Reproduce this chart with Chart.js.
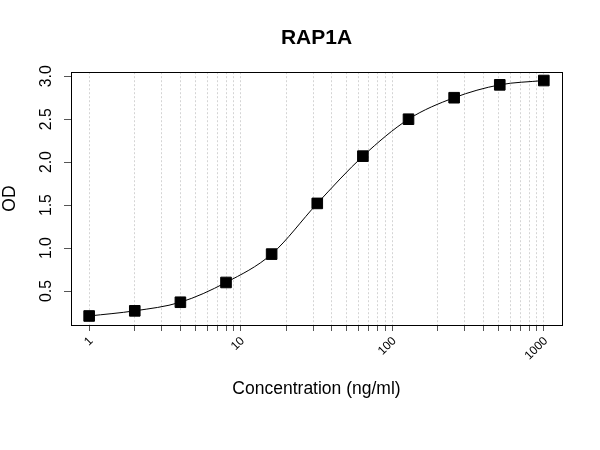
<!DOCTYPE html>
<html>
<head>
<meta charset="utf-8">
<script src="https://cdn.jsdelivr.net/npm/chart.js@4"></script>
<style>
html,body{margin:0;padding:0;background:#fff;}
canvas{display:block;}
</style>
</head>
<body>
<canvas id="c" width="600" height="450"></canvas>
<script>
// ---- data ----
const concentrations = [1, 2, 4, 8, 16, 32, 64, 128, 256, 512, 1000];
const odValues = [0.21, 0.27, 0.37, 0.60, 0.93, 1.52, 2.07, 2.50, 2.75, 2.90, 2.95];
const xTickValues = [1,2,3,4,5,6,7,8,9,10,20,30,40,50,60,70,80,90,100,200,300,400,500,600,700,800,900,1000];
const xTickLabels = [1, 10, 100, 1000];
const yTickValues = [0.5, 1.0, 1.5, 2.0, 2.5, 3.0];
const chartTitle = 'RAP1A';
const xTitle = 'Concentration (ng/ml)';
const yTitle = 'OD';

const FONT = "'Liberation Sans', Arial, Helvetica, sans-serif";

const boxPlugin = {
  id: 'box',
  afterDraw(chart) {
    const {ctx, chartArea: a} = chart;
    ctx.save();
    ctx.strokeStyle = '#000';
    ctx.lineWidth = 1;
    ctx.strokeRect(Math.round(a.left) + 0.5, Math.round(a.top) + 0.5,
                   Math.round(a.right - a.left), Math.round(a.bottom - a.top));
    ctx.restore();
  }
};

new Chart(document.getElementById('c'), {
  type: 'scatter',
  data: {
    datasets: [{
      data: concentrations.map((x, i) => ({x: x, y: odValues[i]})),
      showLine: true,
      borderColor: '#000',
      borderWidth: 1,
      cubicInterpolationMode: 'monotone',
      pointStyle: 'rect',
      pointRadius: 7.5,
      pointBackgroundColor: '#000',
      pointBorderColor: '#000',
      pointBorderWidth: 1
    }]
  },
  options: {
    responsive: false,
    animation: false,
    devicePixelRatio: 1,
    layout: { padding: { left: 0, right: 38, top: 0, bottom: 0 } },
    plugins: {
      legend: { display: false },
      tooltip: { enabled: false },
      title: {
        display: true,
        text: chartTitle,
        fullSize: false,
        color: '#000',
        font: { family: FONT, size: 21, weight: 'bold' },
        padding: { top: 26, bottom: 21 }
      }
    },
    scales: {
      x: {
        type: 'logarithmic',
        min: 0.759,
        max: 1318,
        afterBuildTicks(s) { s.ticks = xTickValues.map(v => ({value: v})); },
        afterFit(s) { s.height = 125; },
        ticks: {
          autoSkip: false,
          minRotation: 45,
          maxRotation: 45,
          padding: 3,
          labelOffset: 2,
          color: '#000',
          font: { family: FONT, size: 12 },
          callback: v => xTickLabels.includes(v) ? String(v) : ''
        },
        grid: {
          color: '#d4d4d4',
          lineWidth: 1,
          tickLength: 6,
          tickColor: '#555',
          tickBorderDash: [],
          drawTicks: true
        },
        border: { display: true, color: '#000', width: 1, dash: [2, 2] },
        title: {
          display: true,
          text: xTitle,
          color: '#000',
          font: { family: FONT, size: 17.5 },
          padding: { top: 0, bottom: 50 }
        }
      },
      y: {
        type: 'linear',
        min: 0.105,
        max: 3.047,
        afterBuildTicks(s) { s.ticks = yTickValues.map(v => ({value: v})); },
        afterFit(s) { s.width = 71; },
        ticks: {
          minRotation: 90,
          maxRotation: 90,
          crossAlign: 'center',
          padding: 6,
          color: '#000',
          font: { family: FONT, size: 15.75 },
          callback: v => Number(v).toFixed(1)
        },
        grid: {
          drawOnChartArea: false,
          drawTicks: true,
          tickLength: 7,
          tickColor: '#555'
        },
        border: { display: true, color: '#000', width: 1 },
        title: {
          display: true,
          text: yTitle,
          color: '#000',
          font: { family: FONT, size: 17.5 },
          padding: { top: 0, bottom: 0 }
        }
      }
    }
  },
  plugins: [boxPlugin]
});
</script>
</body>
</html>
